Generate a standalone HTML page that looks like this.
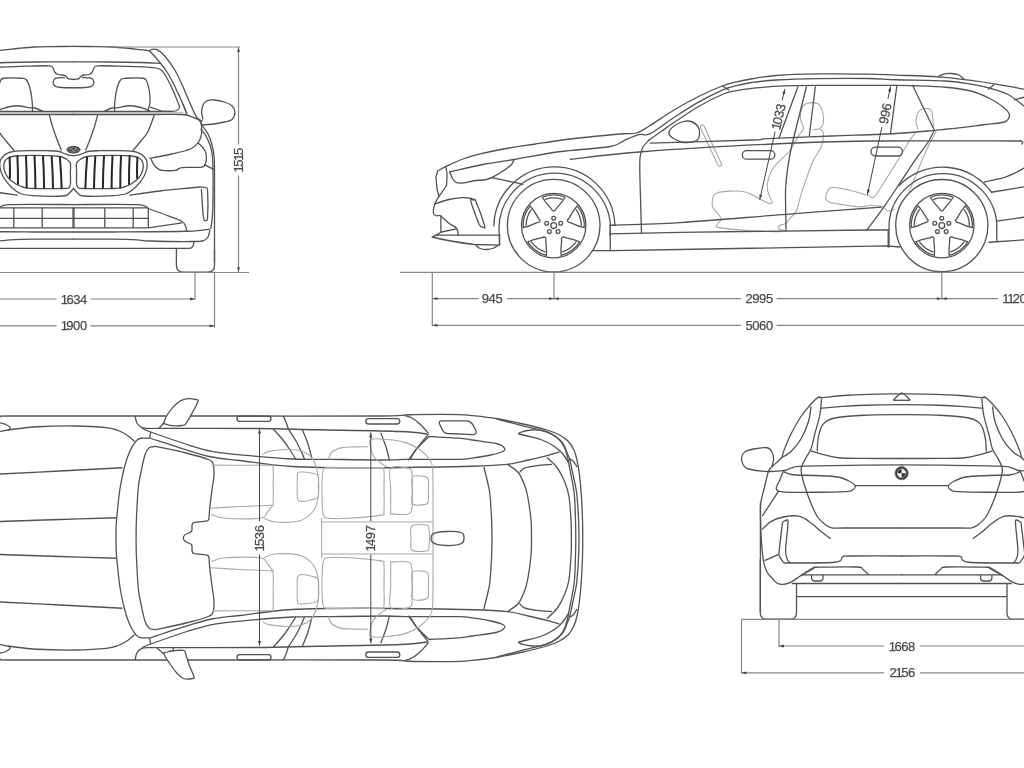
<!DOCTYPE html>
<html><head><meta charset="utf-8"><title>Dimensions</title>
<style>
html,body{margin:0;padding:0;background:#fff;}
body{width:1024px;height:768px;overflow:hidden;}
svg{display:block;will-change:transform;}
.b{fill:none;stroke:#525252;stroke-width:1.3;stroke-linecap:round;stroke-linejoin:round;}
#fh .b,#rh .b,#th .b,#th .s{stroke-linecap:butt;}
.k{fill:none;stroke:#444;stroke-width:1;stroke-linecap:round;stroke-linejoin:round;}
.g{fill:none;stroke:#262626;stroke-width:2;stroke-linecap:round;}
.s{fill:none;stroke:#a8a8a8;stroke-width:1.1;stroke-linecap:round;stroke-linejoin:round;}
.d{fill:none;stroke:#858585;stroke-width:1.2;}
.ah{fill:#444;stroke:none;}
.w{fill:#fff;stroke:#525252;stroke-width:1.3;}
text{font-family:"Liberation Sans",sans-serif;fill:#4a4a4a;stroke:#4a4a4a;stroke-width:.25;text-anchor:start;dominant-baseline:central;}
</style></head>
<body>
<svg width="1024" height="768" viewBox="0 0 1024 768">
<g id="fh"><path class="b" d="M73 46.4C76.67 46.43 88.42 46.5 95 46.6C101.58 46.7 107 46.73 112.5 47C118 47.27 123.42 47.82 128 48.25C132.58 48.68 136.42 49.18 140 49.6C143.58 50.02 147.92 50.56 149.5 50.75"/>
<path class="b" d="M73 61.8C79.5 61.83 100.83 61.88 112 62C123.17 62.12 131.92 62.28 140 62.5C148.08 62.72 157.08 63.17 160.5 63.3"/>
<path class="b" d="M149.5 50.75C149.92 50.52 150.75 49.59 152 49.4C153.25 49.21 154.92 48.54 157 49.6C159.08 50.66 161.58 52.43 164.5 55.75C167.42 59.07 171.58 64.71 174.5 69.5C177.42 74.29 179.5 79.08 182 84.5C184.5 89.92 187.21 96.79 189.5 102C191.79 107.21 194.08 112.78 195.75 115.75C197.42 118.72 198.29 118.01 199.5 119.8C200.71 121.59 201.58 124.13 203 126.5C204.42 128.87 206.54 131.08 208 134C209.46 136.92 210.73 140.25 211.75 144C212.77 147.75 213.64 152.33 214.1 156.5C214.56 160.67 214.43 161.75 214.5 169C214.57 176.25 214.5 188.17 214.5 200C214.5 211.83 214.5 229.67 214.5 240C214.5 250.33 214.5 258.33 214.5 262"/>
<path class="b" d="M149.5 50.75C151.17 52.62 156.58 58.46 159.5 62C162.42 65.54 164.5 68.04 167 72C169.5 75.96 172 80.75 174.5 85.75C177 90.75 179.92 97.21 182 102C184.08 106.79 186.17 112.42 187 114.5"/>
<path class="b" d="M183 104L186.75 113.4"/>
<path class="b" d="M73 79.5C73.92 79.4 77.17 79.45 78.5 78.9C79.83 78.35 80.08 76.85 81 76.2C81.92 75.55 82.67 75.28 84 75C85.33 74.72 87.62 75 89 74.5C90.38 74 91.43 73.15 92.3 72C93.17 70.85 93.25 68.63 94.2 67.6C95.15 66.57 93.7 66.03 98 65.8C102.3 65.57 110.79 65.9 120 66.2C129.21 66.5 146.25 66.84 153.25 67.6C160.25 68.36 159.71 68.97 162 70.75C164.29 72.53 165.12 74.92 167 78.25C168.88 81.58 171.38 86.58 173.25 90.75C175.12 94.92 177.21 100.54 178.25 103.25C179.29 105.96 179.71 105.79 179.5 107C179.29 108.21 178.25 109.77 177 110.5C175.75 111.23 174.5 111.25 172 111.4C169.5 111.55 163.67 111.4 162 111.4"/>
<path class="b" d="M73 87.8C75 87.75 82 87.7 85 87.5C88 87.3 89.57 87.18 91 86.6C92.43 86.02 93.23 85.1 93.6 84C93.97 82.9 93.8 81.02 93.2 80C92.6 78.98 91.87 78.3 90 77.9C88.13 77.5 83.33 77.65 82 77.6"/>
<path class="b" d="M114.5 111C114.55 109.5 114.38 105.79 114.8 102C115.22 98.21 116.01 91.95 117 88.25C117.99 84.55 119.29 81.47 120.75 79.8C122.21 78.13 122 78.51 125.75 78.25C129.5 77.99 139.71 77.62 143.25 78.25C146.79 78.88 145.96 79.71 147 82C148.04 84.29 149 88.67 149.5 92C150 95.33 150.21 99.17 150 102C149.79 104.83 148.75 107.43 148.25 109C147.75 110.57 147.21 111 147 111.4"/>
<path class="b" d="M104 111.4C105.33 110.83 109.83 108.6 112 108C114.17 107.4 113.88 108.17 117 107.8C120.12 107.42 126.17 105.62 130.75 105.75C135.33 105.88 141.29 107.66 144.5 108.6C147.71 109.54 149.08 110.93 150 111.4"/>
<path class="b" d="M149.5 107C150.58 107.33 153.92 108.27 156 109C158.08 109.73 161 111 162 111.4"/>
<path class="b" d="M73 111.4H172"/>
<path class="b" d="M73 114.5C85.83 114.5 131.83 114.5 150 114.5C168.17 114.5 175 114.12 182 114.5C189 114.88 189 115.72 192 116.8C195 117.88 198.38 118.97 200 121C201.62 123.03 201.58 126.42 201.75 129C201.92 131.58 201.62 134.21 201 136.5C200.38 138.79 199.75 140.67 198 142.75C196.25 144.83 194.88 147.12 190.5 149C186.12 150.88 178.62 152.43 171.75 154C164.88 155.57 153 157.67 149.25 158.4"/>
<path class="s" d="M73 112.9H183"/>
<path class="b" d="M97.8 114.5C97.17 116.75 95.47 123.42 94 128C92.53 132.58 90.42 138.25 89 142C87.58 145.75 86.08 149.08 85.5 150.5"/>
<path class="b" d="M154.25 115C153.21 117.75 150.29 127.08 148 131.5C145.71 135.92 143 138.33 140.5 141.5C138 144.67 134.25 149 133 150.5"/>
<path class="b" d="M151 159C151.54 160.04 152.88 163.48 154.25 165.25C155.62 167.02 157.46 168.71 159.25 169.6C161.04 170.49 162.29 170.47 165 170.6C167.71 170.73 172.92 170.85 175.5 170.4C178.08 169.95 178.08 168.4 180.5 167.9C182.92 167.4 186.46 167.53 190 167.4C193.54 167.27 199.17 167.67 201.75 167.1C204.33 166.53 204.76 166.18 205.5 164C206.24 161.82 206.62 156.71 206.2 154C205.78 151.29 204.37 149.62 203 147.75C201.63 145.88 198.83 143.58 198 142.75"/>
<path class="b" d="M204.25 164.6L214.25 169.6"/>
<path class="b" d="M200.5 129C201.33 130.04 203.83 132.33 205.5 135.25C207.17 138.17 209.35 142.96 210.5 146.5C211.65 150.04 211.98 152.75 212.4 156.5C212.82 160.25 212.9 161.75 213 169C213.1 176.25 213.07 192.83 213 200C212.93 207.17 212.77 208.62 212.6 212C212.43 215.38 212.31 217.42 212 220.25C211.69 223.08 210.96 227.54 210.75 229"/>
<path class="b" d="M203 119.6C202.77 118.33 201.56 114.52 201.6 112C201.64 109.48 202.35 106.38 203.25 104.5C204.15 102.62 205.12 101.5 207 100.75C208.88 100 211.58 99.79 214.5 100C217.42 100.21 221.58 101.04 224.5 102C227.42 102.96 230.25 104.08 232 105.75C233.75 107.42 235 109.71 235 112C235 114.29 233.75 117.83 232 119.5C230.25 121.17 227.83 121.21 224.5 122C221.17 122.79 215.92 123.75 212 124.25C208.08 124.75 202.83 124.88 201 125"/>
<path class="b" d="M199.5 119.8L202.5 121.3"/>
<path class="b" d="M73 155.6C73.83 155.53 76.38 155.55 78 155.2C79.62 154.85 80.92 154.16 82.75 153.5C84.58 152.84 86.12 151.72 89 151.25C91.88 150.78 95.83 150.81 100 150.7C104.17 150.59 108.54 150.51 114 150.6C119.46 150.69 128.17 150.62 132.75 151.25C137.33 151.88 139.21 152.94 141.5 154.4C143.79 155.86 145.58 157.82 146.5 160C147.42 162.18 147.42 164.79 147 167.5C146.58 170.21 145.75 173.12 144 176.25C142.25 179.38 139.42 183.38 136.5 186.25C133.58 189.12 130.25 191.94 126.5 193.5C122.75 195.06 121.08 195.18 114 195.6C106.92 196.02 90.04 196.43 84 196C77.96 195.57 79.58 194.33 77.75 193C75.92 191.67 73.79 188.83 73 188"/>
<path class="b" d="M76.6 172C76.6 168.53 75.95 165.33 76.6 163.2C77.25 161.07 78.43 160.36 80.5 159.2C82.57 158.04 83.42 156.88 89 156.25C94.58 155.62 106.92 155.44 114 155.4C121.08 155.36 127.33 155.57 131.5 156C135.67 156.43 137.12 156.92 139 158C140.88 159.08 142.12 160.5 142.75 162.5C143.38 164.5 143.38 167.5 142.75 170C142.12 172.5 140.88 175.21 139 177.5C137.12 179.79 134.21 182.08 131.5 183.75C128.79 185.42 125.67 186.71 122.75 187.5C119.83 188.29 120.46 188.33 114 188.5C107.54 188.67 89.97 188.65 84 188.5C78.03 188.35 79.43 188.35 78.2 187.6C76.97 186.85 76.87 186.6 76.6 184C76.33 181.4 76.6 175.47 76.6 172Z"/>
<path class="g" d="M87.1 157.3Q85.8 172.6 85.4 187.8"/>
<path class="g" d="M95.3 156.7Q94.2 172.3 94.0 188.0"/>
<path class="g" d="M104.0 156.3Q103.0 172.2 102.9 188.0"/>
<path class="g" d="M112.5 156.1Q111.6 172.1 111.6 188.0"/>
<path class="g" d="M121.0 156.1Q120.2 171.8 120.3 187.5"/>
<path class="g" d="M129.6 156.3Q128.9 170.2 129.0 184.0"/>
<path class="g" d="M137.4 157.6Q136.8 167.8 137.1 178.0"/>
<path class="b" d="M129.5 195.25C134.58 194.54 149.92 192.21 160 191C170.08 189.79 183.33 188.67 190 188C196.67 187.33 198.33 187.17 200 187"/>
<path class="b" d="M200 187C200.97 187.12 204.53 186.95 205.8 187.7C207.07 188.45 207.3 186.62 207.6 191.5C207.9 196.38 207.88 212.18 207.6 217C207.32 221.82 206.6 220.4 205.9 220.4C205.2 220.4 204.15 222.23 203.4 217C202.65 211.77 201.73 193.67 201.4 189"/>
<path class="b" d="M73 204.6C83.67 204.6 124.25 203.87 137 204.6C149.75 205.33 144.29 207.12 149.5 209C154.71 210.88 162.83 213.82 168.25 215.9C173.67 217.98 179.08 219.73 182 221.5C184.92 223.27 184.98 224.92 185.75 226.5C186.52 228.08 186.46 230.25 186.6 231"/>
<path class="b" d="M73 207.8H148.3M73 218.3H148.3M73 227.8H148.3L182 222.8"/>
<path class="b" d="M73 207.8V227.8M104.8 207.8V227.8M133.2 207.8V227.8M148.3 209V227.8"/>
<path class="b" d="M73 232C79.5 232 93 232.12 112 232C131 231.88 170.75 231.72 187 231.25C203.25 230.78 205.75 229.54 209.5 229.2"/>
<path class="b" d="M210 229.6C209.71 230.75 209.17 234.72 208.25 236.5C207.33 238.28 207 239.42 204.5 240.25C202 241.08 202.42 241.38 193.25 241.5C184.08 241.62 158.88 241.28 149.5 241C140.12 240.72 143.25 240.1 137 239.8C130.75 239.5 122.67 239.3 112 239.2C101.33 239.1 79.5 239.2 73 239.2"/>
<path class="b" d="M73 248.4H189.5Q193.6 248.2 193.9 241.5"/>
<path class="b" d="M176.4 248.4V265.5Q176.6 272.1 183 272.1H208Q214.4 272.1 214.5 265.5V250"/></g>
<use href="#fh" transform="translate(147 0) scale(-1 1)"/>
<ellipse cx="73.5" cy="149.7" rx="6.6" ry="3.3" fill="#555" stroke="#444" stroke-width="1"/>
<ellipse cx="73.5" cy="149.7" rx="4.4" ry="2" fill="#3a3a3a" stroke="#999" stroke-width=".6"/>
<path d="M70.5 148.6L73.5 150.8L76.5 148.6" fill="none" stroke="#ddd" stroke-width="0.8"/>
<path class="s" d="M781.75 231.75C776.54 231.57 760.92 231.39 750.5 230.7C740.08 230.01 724.8 228.63 719.25 227.6C713.7 226.57 716.86 225.89 717.2 224.5C717.54 223.11 721.3 221.17 721.3 219.25C721.3 217.33 718.65 215.08 717.2 213C715.75 210.92 713.3 209.35 712.6 206.75C711.9 204.15 712.42 199.66 713 197.4C713.58 195.14 713.32 194.25 716.1 193.2C718.88 192.15 724.67 191.27 729.7 191.1C734.73 190.93 741.45 190.98 746.3 192.2C751.15 193.42 754.97 196.5 758.8 198.4C762.62 200.3 766.98 202.9 769.25 203.6C771.52 204.3 771.88 202.77 772.4 202.6"/>
<path class="s" d="M772.4 202.6C771.53 200.17 767.38 193.22 767.2 188C767.02 182.78 769.22 175.82 771.3 171.3C773.38 166.78 776.57 164.37 779.7 160.9C782.83 157.43 786.98 154.67 790.1 150.5C793.22 146.33 796.15 139.55 798.4 135.9C800.65 132.25 803.25 131.38 803.6 128.6C803.95 125.82 800.85 122.55 800.5 119.25C800.15 115.95 800.46 111.41 801.5 108.8C802.54 106.19 804.13 104.47 806.75 103.6C809.37 102.73 814.59 102.38 817.2 103.6C819.81 104.82 821.37 107.6 822.4 110.9C823.43 114.2 823.92 120.45 823.4 123.4C822.88 126.35 820.98 127.55 819.25 128.6C817.52 129.65 814.04 129.52 813 129.7"/>
<path class="s" d="M819.25 128.6C819.94 129.3 823.06 129.85 823.4 132.8C823.74 135.75 823.03 141.62 821.3 146.3C819.57 150.98 815.42 155.68 813 160.9C810.58 166.12 808.83 171.7 806.75 177.6C804.67 183.5 802.24 190.75 800.5 196.3C798.76 201.85 798.03 207.25 796.3 210.9C794.57 214.55 791.83 216.12 790.1 218.2C788.37 220.28 787.63 222.18 785.9 223.4C784.17 224.62 780.92 224.63 779.7 225.5C778.48 226.37 777.72 227.68 778.6 228.6C779.48 229.52 783.93 230.6 785 231"/>
<path class="s" d="M831 202.7C830.17 202.13 826.55 201.25 826 199.3C825.45 197.35 826.58 193 827.7 191C828.82 189 829.1 187.43 832.7 187.3C836.3 187.17 843.47 188.88 849.3 190.2C855.13 191.52 863.53 194.1 867.7 195.2C871.87 196.3 871.25 199.45 874.3 196.8C877.35 194.15 881.83 185.82 886 179.3C890.17 172.78 895.42 164.08 899.3 157.7C903.18 151.32 906.52 145.32 909.3 141C912.08 136.68 914.88 133.33 916 131.8"/>
<path class="s" d="M831 202.7C835.45 203.38 851.03 206.38 857.7 206.8C864.37 207.22 866.83 205.2 871 205.2C875.17 205.2 879.92 205.83 882.7 206.8C885.48 207.77 885.77 210.58 887.7 211C889.63 211.42 893.2 209.58 894.3 209.3"/>
<path class="s" d="M917.7 129.3C917.42 127.92 915.87 123.92 916 121C916.13 118.08 917.12 113.88 918.5 111.8C919.88 109.72 922.22 108.77 924.3 108.5C926.38 108.23 929.6 108.67 931 110.2C932.4 111.73 932.28 115.07 932.7 117.7C933.12 120.33 933.37 124.62 933.5 126"/>
<path class="s" d="M936 131.8C934.88 133.88 931.8 139.15 929.3 144.3C926.8 149.45 923.5 156.87 921 162.7C918.5 168.53 916.25 174.58 914.3 179.3C912.35 184.02 910.13 189.05 909.3 191"/>
<rect class="s" x="688.4" y="143.7" width="45" height="3.8" rx="1.9" transform="rotate(65.2 710.9 145.6)"/>
<path class="b" d="M445.9 166.4C448.5 165.25 455.77 161.58 461.5 159.5C467.23 157.42 472.33 155.82 480.25 153.9C488.17 151.98 500.04 149.61 509 148C517.96 146.39 525.67 145.5 534 144.25C542.33 143 550.67 141.62 559 140.5C567.33 139.38 575.67 138.42 584 137.5C592.33 136.58 602.33 135.62 609 135C615.67 134.38 619.42 134.08 624 133.75C628.58 133.42 632.33 134.25 636.5 133C640.67 131.75 642.75 130.08 649 126.25C655.25 122.42 665.67 115 674 110C682.33 105 691.08 100.21 699 96.25C706.92 92.29 715.25 88.64 721.5 86.25C727.75 83.86 731.42 83.15 736.5 81.9C741.58 80.65 745.42 79.82 752 78.75C758.58 77.68 765 76.31 776 75.5C787 74.69 802.67 74.13 818 73.9C833.33 73.67 855 73.9 868 74.1C881 74.3 884.25 74.65 896 75.1C907.75 75.55 926 75.92 938.5 76.8C951 77.68 961.42 79.18 971 80.4C980.58 81.62 987.17 82.65 996 84.1C1004.83 85.55 1019.33 88.27 1024 89.1"/>
<path class="b" d="M938.5 76.6C939.33 76.18 941.42 74.62 943.5 74.1C945.58 73.58 948.5 73.39 951 73.5C953.5 73.61 956.33 73.78 958.5 74.75C960.67 75.72 963.08 78.54 964 79.3"/>
<path class="b" d="M449.6 172C455.33 170.71 473.27 166.33 484 164.25C494.73 162.17 501.5 161.58 514 159.5C526.5 157.42 543.17 153.88 559 151.75C574.83 149.62 598.17 148.61 609 146.75C619.83 144.89 620.17 142.22 624 140.6C627.83 138.97 629.29 138.03 632 137C634.71 135.97 637.21 134.97 640.25 134.4C643.29 133.83 644.62 136.42 650.25 133.6C655.88 130.78 665.88 122.78 674 117.5C682.12 112.22 690.67 106.58 699 101.9C707.33 97.22 717.75 92.12 724 89.4C730.25 86.68 731.83 86.75 736.5 85.6C741.17 84.45 745.42 83.43 752 82.5C758.58 81.57 765 80.65 776 80C787 79.35 802.67 78.85 818 78.6C833.33 78.35 855 78.31 868 78.5C881 78.69 883 79.33 896 79.75C909 80.17 933.5 80.28 946 81C958.5 81.72 963.5 82.85 971 84.1C978.5 85.35 984.75 86.72 991 88.5C997.25 90.28 1003 91.83 1008.5 94.75C1014 97.67 1021.42 104.12 1024 106"/>
<path class="b" d="M988.5 89.1L994 84.75M1014.75 99.75L1024 97.25"/>
<path class="b" d="M649 140C651.08 138.54 657.33 134.17 661.5 131.25C665.67 128.33 667.75 126.67 674 122.5C680.25 118.33 690.67 111.04 699 106.25C707.33 101.46 717.75 96.36 724 93.75C730.25 91.14 731.83 91.49 736.5 90.6C741.17 89.71 744.17 89.2 752 88.4C759.83 87.6 770.17 86.32 783.5 85.8C796.83 85.28 813.25 85.37 832 85.3C850.75 85.23 882.42 85.33 896 85.4C909.58 85.48 905.17 85.44 913.5 85.75C921.83 86.06 936.42 86.38 946 87.25C955.58 88.12 963.71 89.12 971 91C978.29 92.88 984.33 95.79 989.75 98.5C995.17 101.21 1000.27 104.75 1003.5 107.25C1006.73 109.75 1008.27 111.62 1009.1 113.5C1009.93 115.38 1009.43 117.04 1008.5 118.5C1007.57 119.96 1007.67 121.21 1003.5 122.25C999.33 123.29 991 123.81 983.5 124.75C976 125.69 966.62 126.96 958.5 127.9C950.38 128.84 938.71 129.98 934.75 130.4"/>
<path class="b" d="M650.25 143.1C667.21 142.58 732.38 140.75 752 140C771.62 139.25 754.67 139.27 768 138.6C781.33 137.93 810.67 136.85 832 136C853.33 135.15 878.88 134.43 896 133.5C913.12 132.57 928.29 130.92 934.75 130.4"/>
<path class="b" d="M570.25 159.25C582.25 158 609.29 154.25 642.25 151.75C675.21 149.25 730.38 146.04 768 144.25C805.62 142.46 825.83 141.54 868 141C910.17 140.46 995.5 141 1021 141"/>
<path class="b" d="M1021 141C1021.33 141.25 1022.9 142 1023 142.5C1023.1 143 1021.83 143.75 1021.6 144"/>
<path class="b" d="M649 140C647.96 141.25 644.21 144.83 642.75 147.5C641.29 150.17 640.75 152.58 640.25 156C639.75 159.42 639.71 161 639.75 168C639.79 175 640.21 187.17 640.5 198C640.79 208.83 641.33 227.17 641.5 233"/>
<path class="b" d="M669 133.75C668.58 131.97 669.62 129.97 671.5 128.1C673.38 126.22 677.12 123.64 680.25 122.5C683.38 121.36 687.33 120.62 690.25 121.25C693.17 121.88 696.19 124.17 697.75 126.25C699.31 128.33 699.81 131.36 699.6 133.75C699.39 136.14 699.1 139.14 696.5 140.6C693.9 142.06 687.75 142.81 684 142.5C680.25 142.19 676.5 140.21 674 138.75C671.5 137.29 669.42 135.53 669 133.75Z"/>
<path class="b" d="M722.75 86.25L729 90"/>
<rect class="b" x="742.3" y="150.6" width="32.5" height="8.6" rx="4.3"/>
<rect class="b" x="871" y="147.2" width="31.5" height="8.8" rx="4.4"/>
<path class="b" d="M797.8 87L779 138M806.4 87L791.75 145.5Q785 178 785.5 198L786 230.5M815.3 87L809.3 135.5"/>
<path class="b" d="M896.75 86.5L890.5 133.3M912.9 86L934.1 129.75"/>
<path class="b" d="M934.1 131C932.96 133.08 930.33 138.77 927.25 143.5C924.17 148.23 920.14 152.83 915.6 159.4C911.06 165.97 905.22 175.08 900 182.9C894.78 190.72 889.78 198.49 884.3 206.3C878.82 214.11 869.97 225.84 867.1 229.75"/>
<path class="b" d="M610.25 225.3C621.88 224.85 650.71 224.43 680 222.6C709.29 220.77 752.47 216.87 786 214.3C819.53 211.73 865.33 208.38 881.2 207.2"/>
<path class="b" d="M610.25 233.8L680 232.3L866.8 230H888.2M590 250.6H612L680 249.5L886 245.8L900 247M610.25 225.3V250.6M888.2 229.75V247M610.25 225.3H615.4"/>
<path class="b" d="M449.6 172C450.12 173.15 451.6 177.13 452.75 178.9C453.9 180.67 454.62 181.95 456.5 182.6C458.38 183.25 461.08 183.11 464 182.8C466.92 182.49 470.25 181.3 474 180.75C477.75 180.2 483.17 180.22 486.5 179.5C489.83 178.78 490.88 178.07 494 176.4C497.12 174.73 502.33 171.48 505.25 169.5C508.17 167.52 510.04 166.17 511.5 164.5C512.96 162.83 513.58 160.33 514 159.5"/>
<path class="b" d="M491.5 177.6C495.46 178.43 510.04 181.45 515.25 182.6C520.46 183.75 521.5 184.18 522.75 184.5"/>
<path class="b" d="M445.9 166.4L437.75 170.75L435.9 177L437.1 189.5L439 196.4L446.5 185.75L447.1 174.5L445.9 166.4"/>
<path class="b" d="M439 196.4C438.27 197.75 435.53 201.69 434.6 204.5C433.67 207.31 433.08 211.38 433.4 213.25C433.72 215.12 435.36 215.33 436.5 215.75C437.64 216.17 438.17 214.5 440.25 215.75C442.33 217 446.29 221.17 449 223.25C451.71 225.33 454.93 226.28 456.5 228.25C458.07 230.22 458.08 233.96 458.4 235.1"/>
<path class="b" d="M434.6 204C437 203.25 444.52 200.57 449 199.5C453.48 198.43 457.96 197.81 461.5 197.6C465.04 197.39 468.17 197.83 470.25 198.25C472.33 198.67 473.38 199.79 474 200.1"/>
<path class="b" d="M470.9 201.4C469.97 197.42 472.57 200 473.4 200C474.23 200 474.03 197.11 475.9 201.4C477.77 205.69 483.46 221.48 484.6 225.75C485.74 230.02 483.68 227.31 482.75 227C481.82 226.69 480.98 228.17 479 223.9C477.02 219.63 471.83 205.38 470.9 201.4Z"/>
<path class="b" d="M440.9 215.75V232"/>
<path class="b" d="M432.1 237L441.5 232L456.5 228.9M432.1 237L436.5 235.1H499.6M432.1 237Q449 241.4 474 244.5L499.6 245.1M499.6 234.5V245.1"/>
<path class="b" d="M476 245C476.67 245.58 478.17 247.75 480 248.5C481.83 249.25 484.67 249.58 487 249.5C489.33 249.42 492.17 248.72 494 248C495.83 247.28 497.33 245.67 498 245.2"/>
<path class="b" d="M493.82 225.91A60.60 60.60 0 0 1 614.96 225.39"/>
<path class="b" d="M499.41 235.05A55.65 55.65 0 1 1 609.99 235.05"/>
<path class="b" d="M499.4 235V245"/>
<path class="b" d="M899.05 185.54A60.40 60.40 0 0 1 991.67 192.43"/>
<path class="b" d="M889.05 229.75A53.90 53.90 0 1 1 996.75 229.75"/>
<path class="b" d="M889 229.75V247M996.8 229.75V240.7"/>
<path class="b" d="M984.3 182.1C987.68 181.32 999.32 179 1004.6 177.4C1009.88 175.8 1012.77 174.07 1016 172.5C1019.23 170.93 1022.67 168.75 1024 168"/>
<path class="b" d="M991.3 192.25L1024 186.8M996.8 221.2L1024 217.25M989 242.25L1024 239.9"/>
<circle class="w" cx="553.7" cy="225.6" r="46.3"/>
<circle class="b" cx="553.7" cy="225.6" r="32.2"/>
<path class="b" d="M542.24 197.23A30.60 30.60 0 0 1 565.16 197.23Q562.25 202.11 556.44 208.32Q553.70 214.00 550.96 208.32Q545.15 202.11 542.24 197.23"/>
<path class="b" d="M545.40 199.28A27.60 27.60 0 0 1 562.00 199.28"/>
<circle class="b" cx="553.70" cy="218.20" r="1.9"/>
<path class="b" d="M577.14 205.93A30.60 30.60 0 0 1 584.23 227.73Q578.68 226.47 570.98 222.86Q564.73 222.02 569.29 217.66Q573.40 210.21 577.14 205.93"/>
<path class="b" d="M576.17 209.57A27.60 27.60 0 0 1 581.30 225.36"/>
<circle class="b" cx="560.74" cy="223.31" r="1.9"/>
<path class="b" d="M579.65 241.82A30.60 30.60 0 0 1 561.10 255.29Q560.59 249.63 561.64 241.19Q560.52 234.98 566.07 237.97Q574.43 239.58 579.65 241.82"/>
<path class="b" d="M575.89 242.02A27.60 27.60 0 0 1 562.46 251.77"/>
<circle class="b" cx="558.05" cy="231.59" r="1.9"/>
<path class="b" d="M546.30 255.29A30.60 30.60 0 0 1 527.75 241.82Q532.97 239.58 541.33 237.97Q546.88 234.98 545.76 241.19Q546.81 249.63 546.30 255.29"/>
<path class="b" d="M544.94 251.77A27.60 27.60 0 0 1 531.51 242.02"/>
<circle class="b" cx="549.35" cy="231.59" r="1.9"/>
<path class="b" d="M523.17 227.73A30.60 30.60 0 0 1 530.26 205.93Q534.00 210.21 538.11 217.66Q542.67 222.02 536.42 222.86Q528.72 226.47 523.17 227.73"/>
<path class="b" d="M526.10 225.36A27.60 27.60 0 0 1 531.23 209.57"/>
<circle class="b" cx="546.66" cy="223.31" r="1.9"/>
<circle class="b" cx="553.7" cy="225.6" r="2.9"/>
<circle class="w" cx="941.8" cy="225.6" r="46.1"/>
<circle class="b" cx="941.8" cy="225.6" r="32.2"/>
<path class="b" d="M930.34 197.23A30.60 30.60 0 0 1 953.26 197.23Q950.35 202.11 944.54 208.32Q941.80 214.00 939.06 208.32Q933.25 202.11 930.34 197.23"/>
<path class="b" d="M933.50 199.28A27.60 27.60 0 0 1 950.10 199.28"/>
<circle class="b" cx="941.80" cy="218.20" r="1.9"/>
<path class="b" d="M965.24 205.93A30.60 30.60 0 0 1 972.33 227.73Q966.78 226.47 959.08 222.86Q952.83 222.02 957.39 217.66Q961.50 210.21 965.24 205.93"/>
<path class="b" d="M964.27 209.57A27.60 27.60 0 0 1 969.40 225.36"/>
<circle class="b" cx="948.84" cy="223.31" r="1.9"/>
<path class="b" d="M967.75 241.82A30.60 30.60 0 0 1 949.20 255.29Q948.69 249.63 949.74 241.19Q948.62 234.98 954.17 237.97Q962.53 239.58 967.75 241.82"/>
<path class="b" d="M963.99 242.02A27.60 27.60 0 0 1 950.56 251.77"/>
<circle class="b" cx="946.15" cy="231.59" r="1.9"/>
<path class="b" d="M934.40 255.29A30.60 30.60 0 0 1 915.85 241.82Q921.07 239.58 929.43 237.97Q934.98 234.98 933.86 241.19Q934.91 249.63 934.40 255.29"/>
<path class="b" d="M933.04 251.77A27.60 27.60 0 0 1 919.61 242.02"/>
<circle class="b" cx="937.45" cy="231.59" r="1.9"/>
<path class="b" d="M911.27 227.73A30.60 30.60 0 0 1 918.36 205.93Q922.10 210.21 926.21 217.66Q930.77 222.02 924.52 222.86Q916.82 226.47 911.27 227.73"/>
<path class="b" d="M914.20 225.36A27.60 27.60 0 0 1 919.33 209.57"/>
<circle class="b" cx="934.76" cy="223.31" r="1.9"/>
<circle class="b" cx="941.8" cy="225.6" r="2.9"/>
<g id="th"><path class="b" d="M0 417C1.33 416.83 -8.67 416.17 8 416C24.67 415.83 59.67 416 100 416C140.33 416 202.67 416 250 416C297.33 416 357.5 416.21 384 416C410.5 415.79 399.67 415.02 409 414.75C418.33 414.48 431.67 414.42 440 414.4C448.33 414.38 453.67 414.4 459 414.6C464.33 414.8 465.67 414.91 472 415.6C478.33 416.29 488.67 417.39 497 418.75C505.33 420.11 513.67 421.88 522 423.75C530.33 425.62 540.75 428.12 547 430C553.25 431.88 555.96 433.12 559.5 435C563.04 436.88 565.85 438.75 568.25 441.25C570.65 443.75 572.44 446.88 573.9 450C575.36 453.12 576.07 455.83 577 460C577.93 464.17 578.77 469 579.5 475C580.23 481 580.9 488.5 581.4 496C581.9 503.5 582.27 513 582.5 520C582.73 527 582.71 535 582.75 538"/>
<path class="b" d="M497 419.2C501.17 420.27 513.67 423.48 522 425.6C530.33 427.72 541.17 429.92 547 431.9C552.83 433.88 554.29 435.52 557 437.5C559.71 439.48 561.58 441.25 563.25 443.75C564.92 446.25 565.96 450 567 452.5C568.04 455 568.67 455.83 569.5 458.75C570.33 461.67 570.96 465.21 572 470C573.04 474.79 574.92 483.17 575.75 487.5C576.58 491.83 576.52 490.58 577 496C577.48 501.42 578.27 513 578.6 520C578.93 527 578.93 535 579 538"/>
<path class="b" d="M569.5 458.75C570 459.04 571.57 459.67 572.5 460.5C573.43 461.33 574.35 462.67 575.1 463.75C575.85 464.83 576.68 466.46 577 467"/>
<path class="b" d="M518.25 433.75C518.88 433.44 519.71 432.52 522 431.9C524.29 431.27 528.67 430.22 532 430C535.33 429.78 538.67 429.87 542 430.6C545.33 431.33 549.08 432.83 552 434.4C554.92 435.97 557.42 437.82 559.5 440C561.58 442.18 563.15 444.58 564.5 447.5C565.85 450.42 566.77 454.17 567.6 457.5C568.43 460.83 568.77 463.75 569.5 467.5C570.23 471.25 571.17 475.25 572 480C572.83 484.75 573.92 489.33 574.5 496C575.08 502.67 575.28 513 575.5 520C575.72 527 575.75 535 575.8 538"/>
<path class="b" d="M518.25 433.75C519.92 434.17 524.29 435.21 528.25 436.25C532.21 437.29 538.04 438.54 542 440C545.96 441.46 549.08 443.23 552 445C554.92 446.77 557.42 448.73 559.5 450.6C561.58 452.48 563.04 454.27 564.5 456.25C565.96 458.23 567.62 461.46 568.25 462.5"/>
<path class="b" d="M0 431.4C1.88 431.08 5 430.27 11.25 429.5C17.5 428.73 26.88 427.33 37.5 426.75C48.12 426.17 63.54 425.86 75 426C86.46 426.14 98.96 426.81 106.25 427.6C113.54 428.39 115.12 429.39 118.75 430.75C122.38 432.11 125.38 433.98 128 435.75C130.62 437.52 133.42 440.46 134.5 441.4"/>
<path class="b" d="M0 422.75C1 423.04 4.33 423.67 6 424.5C7.67 425.33 9.67 426.75 10 427.75C10.33 428.75 8.33 430.04 8 430.5"/>
<path class="b" d="M0 474C10 473.5 39.58 472.04 60 471C80.42 469.96 112.08 468.29 122.5 467.75"/>
<path class="b" d="M0 521.5C10 521.17 40.62 520.12 60 519.5C79.38 518.88 106.88 518.04 116.25 517.75"/>
<path class="b" d="M149.5 438.25C148.04 438.25 143.04 437.73 140.75 438.25C138.46 438.77 137.62 439.11 135.75 441.4C133.88 443.69 131.38 447.73 129.5 452C127.62 456.27 126.07 461 124.5 467C122.93 473 121.3 480.5 120.1 488C118.9 495.5 117.94 506 117.3 512C116.66 518 116.47 519.67 116.25 524C116.03 528.33 116.04 535.67 116 538"/>
<path class="b" d="M150.75 432L149.5 438.25"/>
<path class="b" d="M136.1 538C136.15 535 136.04 528.33 136.4 520C136.76 511.67 137.53 495.79 138.25 488C138.97 480.21 139.61 478.83 140.75 473.25C141.89 467.67 143.64 458.77 145.1 454.5C146.56 450.23 147.72 448.95 149.5 447.6C151.28 446.25 154.71 446.6 155.75 446.4"/>
<path class="b" d="M155.75 446.4C160.96 447.54 178.25 451.07 187 453.25C195.75 455.43 203.88 457.62 208.25 459.5C212.62 461.38 212.31 461.75 213.25 464.5C214.19 467.25 214.07 472.08 213.9 476C213.73 479.92 212.94 482.67 212.25 488C211.56 493.33 210.28 503 209.75 508C209.22 513 209.21 516.33 209.1 518"/>
<path class="b" d="M209.1 518Q208.8 521 206 521.2L194.5 522.3Q192.2 522.6 192 525.5V530Q192 531.8 188.5 533Q183.6 534.6 183.3 538"/>
<path class="b" d="M142 428.25C143.46 428.88 143.25 429.29 150.75 432C158.25 434.71 176.79 441.27 187 444.5C197.21 447.73 203.17 449.68 212 451.4C220.83 453.12 226.67 453.53 240 454.8C253.33 456.07 275 458.22 292 459C309 459.78 326.67 459.33 342 459.5C357.33 459.67 372.62 460.03 384 460C395.38 459.97 405.88 459.42 410.25 459.3"/>
<path class="b" d="M150.1 438.25C156.25 440.23 176.68 446.98 187 450.1C197.32 453.23 203.17 455.27 212 457C220.83 458.73 226.67 458.92 240 460.5C253.33 462.08 270.83 465.29 292 466.5C313.17 467.71 337 467.79 367 467.75C397 467.71 448.67 466.81 472 466.25C495.33 465.69 497.62 465.44 507 464.4C516.38 463.36 521.58 461.47 528.25 460C534.92 458.53 541.79 456.95 547 455.6C552.21 454.25 557.42 452.52 559.5 451.9"/>
<path class="b" d="M135.1 416.2C135.42 417.38 135.85 421.35 137 423.25C138.15 425.15 139.92 426.74 142 427.6C144.08 428.46 146.5 428.27 149.5 428.4C152.5 428.53 142.25 428.38 160 428.4C177.75 428.42 229.83 428.27 256 428.5C282.17 428.73 293 429.25 317 429.75C341 430.25 381.67 430.79 400 431.5C418.33 432.21 422.5 433.58 427 434"/>
<rect class="b" x="237" y="416.2" width="34" height="5.2" rx="2.6"/>
<rect class="b" x="365.8" y="418.6" width="34" height="5.4" rx="2.7"/>
<path class="b" d="M283.25 416C283.71 417 285.17 419.83 286 422C286.83 424.17 287.88 427.83 288.25 429"/>
<path class="b" d="M273.25 429C274.88 430.83 280.21 436.5 283 440C285.79 443.5 287.88 446.83 290 450C292.12 453.17 294.79 457.5 295.75 459"/>
<path class="b" d="M288.25 429C289.54 431 293.88 437.33 296 441C298.12 444.67 299.58 448 301 451C302.42 454 303.92 457.67 304.5 459"/>
<path class="b" d="M302 429C302.83 431 305.67 437.33 307 441C308.33 444.67 309.17 448 310 451C310.83 454 311.67 457.67 312 459"/>
<path class="b" d="M380.75 432.75C381.62 435.12 384.54 442.42 386 447C387.46 451.58 388.92 458.04 389.5 460.25"/>
<path class="b" d="M404.5 415.5C405.75 415.92 409.25 416.42 412 418C414.75 419.58 418.25 422.42 421 425C423.75 427.58 427.25 432.08 428.5 433.5"/>
<path class="b" d="M428.5 434C426.75 436.17 421.38 442.62 418 447C414.62 451.38 409.88 458.04 408.25 460.25"/>
<path class="b" d="M410.25 459C411.29 457.33 413.38 452.75 416.5 449C419.62 445.25 426.92 438.58 429 436.5"/>
<path class="b" d="M429 436.5C434 436.78 451.83 437.62 459 438.2C466.17 438.78 465.67 439.07 472 440C478.33 440.93 491.68 442.5 497 443.75C502.32 445 502.86 446.25 503.9 447.5C504.94 448.75 505.44 450 503.25 451.25C501.06 452.5 495.96 453.86 490.75 455C485.54 456.14 477.29 457.38 472 458.1C466.71 458.82 469.29 459.1 459 459.3C448.71 459.5 418.38 459.3 410.25 459.3"/>
<path class="b" d="M483.9 467C484.62 470 487.22 480.17 488.25 485C489.28 489.83 489.54 490.17 490.1 496C490.66 501.83 491.28 513 491.6 520C491.92 527 491.93 535 492 538"/>
<path class="b" d="M507.6 464.4C509.38 465.75 515.43 469.07 518.25 472.5C521.07 475.93 522.94 481.08 524.5 485C526.06 488.92 526.52 490.17 527.6 496C528.68 501.83 530.35 513 531 520C531.65 527 531.42 535 531.5 538"/>
<path class="b" d="M519.5 472.5C520.33 471.77 521.58 469.25 524.5 468.1C527.42 466.95 532.42 466.22 537 465.6C541.58 464.98 549.5 464.6 552 464.4"/>
<path class="b" d="M547 457.5C548.67 459.17 554.08 463.54 557 467.5C559.92 471.46 562.52 476.5 564.5 481.25C566.48 486 567.82 489.54 568.9 496C569.98 502.46 570.58 513 571 520C571.42 527 571.33 535 571.4 538"/>
<path class="s" d="M212.5 465.1C217.08 465.13 230.42 465.28 240 465.3C249.58 465.32 264.5 464.92 270 465.2C275.5 465.48 272.47 463.53 273 467C273.53 470.47 273.2 479.92 273.2 486C273.2 492.08 273.53 500.3 273 503.5C272.47 506.7 275.5 504.7 270 505.2C264.5 505.7 250 505.99 240 506.5C230 507.01 215 507.96 210 508.25"/>
<path class="s" d="M211.25 514.5C213.54 515.12 216.88 517.62 225 518.25C233.12 518.88 252.92 519.29 260 518.25C267.08 517.21 265.42 514.08 267.5 512C269.58 509.92 271.67 506.79 272.5 505.75"/>
<path class="s" d="M262.5 454.5C263.54 453.98 264.58 452.23 268.75 451.4C272.92 450.57 282.29 449.61 287.5 449.5C292.71 449.39 296.25 449.71 300 450.75C303.75 451.79 307.29 453.04 310 455.75C312.71 458.46 314.79 462.62 316.25 467C317.71 471.38 318.54 476.38 318.75 482C318.96 487.62 318.54 495.75 317.5 500.75C316.46 505.75 315.42 508.67 312.5 512C309.58 515.33 306.25 519.08 300 520.75C293.75 522.42 281.04 522.42 275 522C268.96 521.58 265.62 518.88 263.75 518.25"/>
<path class="s" d="M297.5 474.5C297.97 472.17 297.5 472.21 300 472C302.5 471.79 309.48 472.62 312.5 473.25C315.52 473.88 317.13 473.62 318.1 475.75C319.07 477.88 318.3 482.46 318.3 486C318.3 489.54 319.07 494.75 318.1 497C317.13 499.25 315.31 498.77 312.5 499.5C309.69 500.23 303.75 501.61 301.25 501.4C298.75 501.19 298.18 500.82 297.5 498.25C296.82 495.68 297.2 489.96 297.2 486C297.2 482.04 297.03 476.83 297.5 474.5Z"/>
<path class="s" d="M328.25 459.5C328.88 458.25 329.71 453.98 332 452C334.29 450.02 338.17 448.45 342 447.6C345.83 446.75 350.62 447.04 355 446.9C359.38 446.76 366.04 446.77 368.25 446.75"/>
<path class="s" d="M322 494.5C321.89 487.62 322.18 477.6 322.6 473.25C323.02 468.9 323.56 469.34 324.5 468.4C325.44 467.46 323.17 467.73 328.25 467.6C333.33 467.47 346.21 467.6 355 467.6C363.79 467.6 376.18 467.2 381 467.6C385.82 468 383.4 466.27 383.9 470C384.4 473.73 384 483 384 490C384 497 384.44 507.82 383.9 512C383.36 516.18 386.48 514.06 380.75 515.1C375.02 516.14 358.25 517.73 349.5 518.25C340.75 518.77 332.62 518.88 328.25 518.25C323.88 517.62 324.29 518.46 323.25 514.5C322.21 510.54 322.11 501.38 322 494.5Z"/>
<path class="s" d="M390.75 490C390.75 482.71 387.83 471.88 390.75 468.25C393.67 464.62 404.71 467.42 408.25 468.25C411.79 469.08 411.34 469.62 412 473.25C412.66 476.88 412.2 484.38 412.2 490C412.2 495.62 412.66 503.02 412 507C411.34 510.98 411.58 512.75 408.25 513.9C404.92 515.05 394.92 514.22 392 513.9C389.08 513.58 390.96 515.98 390.75 512C390.54 508.02 390.75 497.29 390.75 490Z"/>
<path class="s" d="M412.6 477C414.62 474.73 421.89 475.98 424.5 476.4C427.11 476.82 427.6 477.23 428.25 479.5C428.9 481.77 428.4 486.35 428.4 490C428.4 493.65 428.9 498.98 428.25 501.4C427.6 503.82 427.11 504.08 424.5 504.5C421.89 504.92 414.62 506.32 412.6 503.9C410.58 501.48 412.4 494.48 412.4 490C412.4 485.52 410.58 479.27 412.6 477Z"/>
<path class="s" d="M387 467C385.75 466.17 381.79 463.88 379.5 462C377.21 460.12 374.71 458.04 373.25 455.75C371.79 453.46 371.17 450.96 370.75 448.25C370.33 445.54 368.04 440.96 370.75 439.5C373.46 438.04 381.17 438.98 387 439.5C392.83 440.02 400.33 440.93 405.75 442.6C411.17 444.27 415.54 446.68 419.5 449.5C423.46 452.32 427.32 456.17 429.5 459.5C431.68 462.83 432.02 462.75 432.6 469.5C433.18 476.25 432.93 488.58 433 500C433.07 511.42 433 531.67 433 538"/>
<path class="s" d="M321.6 518V538M322 522H432.8"/></g>
<use href="#th" transform="translate(0 1076) scale(1 -1)"/>
<path class="w" d="M163.9 422.6C164.32 420.78 166.07 416.48 168.25 413.25C170.43 410.02 174.08 405.64 177 403.25C179.92 400.86 182.62 399.52 185.75 398.9C188.88 398.27 193.71 399.05 195.75 399.5C197.79 399.95 198.62 399.31 198 401.6C197.38 403.89 194.04 409.53 192 413.25C189.96 416.97 187.42 421.86 185.75 423.9C184.08 425.94 184.29 425.22 182 425.5C179.71 425.78 174.71 425.82 172 425.6C169.29 425.38 167.1 424.7 165.75 424.2C164.4 423.7 163.48 424.43 163.9 422.6Z"/>
<path class="b" d="M163.9 422.8L159.5 427.8"/>
<path class="w" d="M163.9 653.9C163.48 652.02 165.44 652.52 167 652C168.56 651.48 170.43 651 173.25 650.75C176.07 650.5 181.82 649.88 183.9 650.5C185.98 651.12 184.82 651.96 185.75 654.5C186.68 657.04 188.14 662.1 189.5 665.75C190.86 669.4 193.38 674.27 193.9 676.4C194.42 678.52 194.38 678.15 192.6 678.5C190.82 678.85 185.85 679.38 183.25 678.5C180.65 677.62 179.29 675.79 177 673.25C174.71 670.71 171.68 666.48 169.5 663.25C167.32 660.02 164.32 655.77 163.9 653.9Z"/>
<path class="b" d="M163.9 653.9L157 648M173.25 648V650.7"/>
<path class="b" d="M441.5 420.9H466.5Q470.6 421.2 472.8 424.6L476 430.8Q476.9 434.6 473 434.6L447 433.5Q444.2 433.2 442.7 430.4L439.5 424Q438.6 421 441.5 420.9Z"/>
<path class="b" d="M432.75 534C435.04 532.17 441.71 531.71 446.5 531.5C451.29 531.29 458.58 531.71 461.5 532.75C464.42 533.79 464 535.96 464 537.75C464 539.54 464.42 542.21 461.5 543.5C458.58 544.79 451.29 545.67 446.5 545.5C441.71 545.33 435.04 544.42 432.75 542.5C430.46 540.58 430.46 535.83 432.75 534Z"/>
<path class="s" d="M412 526C414.5 523.83 423.17 524.5 426 525C428.83 525.5 428.5 525.33 429 529C429.5 532.67 429.5 543.33 429 547C428.5 550.67 428.83 550.5 426 551C423.17 551.5 414.5 552.17 412 550C409.5 547.83 411 542 411 538C411 534 409.5 528.17 412 526Z"/>
<g id="rh"><path class="b" d="M818.5 397.1C819.12 397.18 818.17 397.87 822.25 397.6C826.33 397.33 835.38 396.05 843 395.5C850.62 394.95 858.12 394.57 868 394.3C877.88 394.03 896.54 393.97 902.25 393.9"/>
<path class="b" d="M821 408.4C824.67 408.05 835.83 406.82 843 406.3C850.17 405.78 854.12 405.53 864 405.25C873.88 404.97 895.88 404.71 902.25 404.6"/>
<path class="b" d="M893.3 400.3L897.5 395.8Q901.75 392.5 902.25 393.2"/>
<path class="b" d="M893.3 400.3H902.25"/>
<path class="b" d="M821.6 398.4C821.08 398.18 820.27 396.17 818.5 397.1C816.73 398.03 813.92 400.77 811 404C808.08 407.23 804.33 411.5 801 416.5C797.67 421.5 793.92 428.17 791 434C788.08 439.83 785.07 447.54 783.5 451.5C781.93 455.46 783.27 455.46 781.6 457.75C779.93 460.04 775.68 462.96 773.5 465.25C771.32 467.54 770 467.83 768.5 471.5C767 475.17 765.78 482.02 764.5 487.25C763.22 492.48 761.45 497.17 760.8 502.9C760.15 508.62 760.47 514.83 760.6 521.6C760.73 528.37 761.08 536.73 761.6 543.5C762.12 550.27 762.8 557.5 763.7 562.25C764.6 567 765.6 569.34 767 572C768.4 574.66 770.47 576.37 772.1 578.2C773.73 580.03 774.98 581.97 776.8 583C778.62 584.03 780.65 584.55 783 584.4C785.35 584.25 787.9 583.58 790.9 582.1C793.9 580.62 797.36 577.85 801 575.5C804.64 573.15 809.75 569.38 812.75 568C815.75 566.62 811.62 567.37 819 567.2C826.38 567.03 849.67 566.62 857 567C864.33 567.38 861.08 568.25 863 569.5C864.92 570.75 867.58 573.67 868.5 574.5"/>
<path class="b" d="M811 406.5C810.58 409 810.17 416.08 808.5 421.5C806.83 426.92 803.92 434 801 439C798.08 444 794.23 448.38 791 451.5C787.77 454.62 783.17 456.71 781.6 457.75"/>
<path class="b" d="M821.6 399C821.29 401.71 820.89 409.42 819.75 415.25C818.61 421.08 816.21 428.38 814.75 434C813.29 439.62 812.46 445.04 811 449C809.54 452.96 807.46 455.04 806 457.75C804.54 460.46 803.05 462.94 802.25 465.25C801.45 467.56 800.73 467.93 801.2 471.6C801.68 475.27 803.4 481.78 805.1 487.25C806.8 492.72 809.32 499.44 811.4 504.4C813.48 509.36 815.27 513.61 817.6 517C819.93 520.39 823.05 522.93 825.4 524.75C827.75 526.57 828.43 527.36 831.7 527.9C834.97 528.44 833.24 527.98 845 528C856.76 528.02 892.71 528 902.25 528"/>
<path class="b" d="M902.25 414.6C895.88 414.71 875.04 414.73 864 415.25C852.96 415.77 842.33 416.71 836 417.75C829.67 418.79 828.5 419.83 826 421.5C823.5 423.17 822.35 424.62 821 427.75C819.65 430.88 818.52 436.29 817.9 440.25C817.27 444.21 817.36 449.62 817.25 451.5"/>
<path class="b" d="M811 450.9C813.08 451.52 818.92 453.46 823.5 454.6C828.08 455.74 831.75 457.12 838.5 457.75C845.25 458.38 853.38 458.27 864 458.4C874.62 458.52 895.88 458.48 902.25 458.5"/>
<path class="b" d="M771.8 466.5C772.08 465.46 773.42 462.54 773.5 460.25C773.58 457.96 773.29 454.83 772.25 452.75C771.21 450.67 770.38 448.38 767.25 447.75C764.12 447.12 757.25 448.27 753.5 449C749.75 449.73 746.73 450.64 744.75 452.1C742.77 453.56 741.81 455.56 741.6 457.75C741.39 459.94 742.35 463.38 743.5 465.25C744.65 467.12 744.54 467.96 748.5 469C752.46 470.04 761 471.29 767.25 471.5C773.5 471.71 782.88 470.46 786 470.25"/>
<path class="b" d="M783.25 471.6C784.81 470.95 789.23 468.6 792.6 467.7C795.98 466.8 791.6 466.63 803.5 466.2C815.4 465.77 847.54 465.33 864 465.1C880.46 464.87 895.88 464.85 902.25 464.8"/>
<path class="b" d="M783.25 471.6C784.81 472.12 787.39 474.1 792.6 474.75C797.81 475.4 806.93 475.12 814.5 475.5C822.07 475.88 832.27 476.08 838 477C843.73 477.92 846.05 479.55 848.9 481C851.75 482.45 854.58 484.13 855.1 485.7C855.62 487.27 853.56 489.42 852 490.4C850.44 491.38 852 491.29 845.75 491.6C839.5 491.91 825.69 492.32 814.5 492.25C803.31 492.18 784.33 493.34 778.6 491.2C772.87 489.06 779.33 482.67 780.1 479.4C780.88 476.13 782.73 472.9 783.25 471.6"/>
<path class="b" d="M855.1 485.7H902.25"/>
<path class="b" d="M778.6 491.2L762.2 516.2"/>
<path class="b" d="M760.4 503V612"/>
<path class="b" d="M762.2 529.4C763.62 528.1 767.24 523.67 770.75 521.6C774.26 519.53 778.56 517.9 783.25 517C787.94 516.1 794.21 515.17 798.9 516.2C803.59 517.23 807.5 520.47 811.4 523.2C815.3 525.93 819.05 530 822.3 532.6C825.55 535.2 829.47 537.77 830.9 538.8"/>
<path class="b" d="M782.5 522.4C783.02 522.1 784.68 520.6 785.6 520.6C786.52 520.6 788 517.54 788 522.4C788 527.26 785.73 543.63 785.6 549.75C785.47 555.87 786.42 556.89 787.2 559.1C787.98 561.31 789.78 562.35 790.3 563"/>
<path class="b" d="M782.5 522.4C781.97 526.96 779.83 544.15 779.3 549.75C778.77 555.35 778.52 553.79 779.3 556C780.08 558.21 783.22 561.83 784 563"/>
<path class="b" d="M784 563C792.47 562.88 825.03 563.28 834.8 562.25C844.57 561.22 840.07 557.84 842.6 556.8C845.13 555.76 840.06 556.13 850 556C859.94 555.87 893.54 556 902.25 556"/>
<path class="b" d="M764.5 560.7L778.6 554.4"/>
<path class="b" d="M800.4 576L814.5 567.9"/>
<path class="b" d="M801 574.9H902.25M791.7 583.5H902.25M796.5 596.6H902.25"/>
<path class="b" d="M811.6 574.9V578Q811.8 581 814.6 581H820Q822.8 581 823 578V574.9"/>
<path class="b" d="M760.3 559V613Q760.5 619.2 766.5 619.2H790.5Q796.4 619.2 796.5 613V583.7"/></g>
<use href="#rh" transform="translate(1803.50 0) scale(-1 1)"/>
<circle cx="901.6" cy="473.2" r="6.6" fill="#333" stroke="#777" stroke-width="1"/>
<path d="M901.6 468.9A4.3 4.3 0 0 1 905.9 473.2H901.6ZM901.6 477.5A4.3 4.3 0 0 1 897.3 473.2H901.6Z" fill="#fff"/>
<circle cx="901.6" cy="473.2" r="4.3" fill="none" stroke="#ddd" stroke-width="0.6"/>
<path class="d" d="M0 272.5H249"/>
<path class="d" d="M112 47H240"/>
<path class="d" d="M238.5 47V144.5M238.5 175.5V272"/>
<path class="ah" d="M238.5 47L239.9 52L237.1 52Z"/>
<path class="ah" d="M238.5 272.3L237.1 267.3L239.9 267.3Z"/>
<text x="225.95 231.58 237.75 243.38" y="159.8" font-size="13" transform="rotate(-90 238.6 159.8)">1515</text>
<path class="d" d="M195 272.5V300M214.5 272.5V327.5"/>
<path class="d" d="M0 299H56.5M90.5 299H195"/>
<path class="ah" d="M195 299L190 300.4L190 297.6Z"/>
<text x="60.85 66.48 73.28 80.08" y="299" font-size="13">1634</text>
<path class="d" d="M0 325.8H56.5M90.5 325.8H214.5"/>
<path class="ah" d="M214.5 325.8L209.5 327.2L209.5 324.4Z"/>
<text x="60.65 66.28 73.08 79.88" y="325.8" font-size="13">1900</text>
<path class="d" d="M400 272.3H1024"/>
<path class="d" d="M432.3 272.3V326M554 272.3V299.5M941.8 272.3V299.5"/>
<path class="d" d="M432.3 298.6H478.4M507 298.6H554M554 298.6H741M776.5 298.6H941.8M941.8 298.6H998"/>
<path class="ah" d="M432.3 298.6L437.3 297.2L437.3 300Z"/>
<path class="ah" d="M554 298.6L549 300L549 297.2Z"/>
<path class="ah" d="M554 298.6L559 297.2L559 300Z"/>
<path class="ah" d="M941.8 298.6L936.8 300L936.8 297.2Z"/>
<path class="ah" d="M941.8 298.6L946.8 297.2L946.8 300Z"/>
<text x="481.78 488.58 495.38" y="298.6" font-size="13">945</text>
<text x="745.48 752.28 759.08 765.88" y="298.6" font-size="13">2995</text>
<text x="1002.15 1007.15 1012.78 1019.58" y="298.6" font-size="13">1120</text>
<path class="d" d="M432.3 325.3H741M776.5 325.3H1024"/>
<path class="ah" d="M432.3 325.3L437.3 323.9L437.3 326.7Z"/>
<text x="745.48 752.28 759.08 765.88" y="325.6" font-size="13">5060</text>
<path class="k" d="M784.8 89.3L782.3 100M775 132L759.8 199.3"/>
<path class="ah" d="M784.8 89.3L785.34 94.14L782.22 93.43Z"/>
<path class="ah" d="M759.8 199.3L759.26 194.46L762.38 195.17Z"/>
<text x="765.15 770.78 777.58 784.38" y="116.5" font-size="13" transform="rotate(-77.2 778.7 116.5)">1033</text>
<path class="k" d="M890.5 86.8L888 98.5M881.8 127.5L867.5 194.3"/>
<path class="ah" d="M890.5 86.8L891.1 91.63L887.97 90.96Z"/>
<path class="ah" d="M867.5 194.3L866.9 189.47L870.03 190.14Z"/>
<text x="874.88 881.68 888.48" y="113.5" font-size="13" transform="rotate(-77.9 885.3 113.5)">996</text>
<path class="k" d="M259.5 429V521M259.5 555V645.5"/>
<path class="ah" d="M259.5 429L261.1 433.6L257.9 433.6Z"/>
<path class="ah" d="M259.5 645.5L257.9 640.9L261.1 640.9Z"/>
<text x="245.95 251.58 258.38 265.18" y="538" font-size="13" transform="rotate(-90 259.5 538)">1536</text>
<path class="k" d="M370.8 432.8V521M370.8 555V643"/>
<path class="ah" d="M370.8 432.8L372.4 437.4L369.2 437.4Z"/>
<path class="ah" d="M370.8 643L369.2 638.4L372.4 638.4Z"/>
<text x="357.25 362.88 369.68 376.48" y="538" font-size="13" transform="rotate(-90 370.8 538)">1497</text>
<path class="d" d="M741.5 619.3H1024"/>
<path class="d" d="M741.5 619.3V673.5M779 619.3V647"/>
<path class="d" d="M779 646H884M920 646H1024"/>
<path class="ah" d="M779 646L784 644.6L784 647.4Z"/>
<text x="888.75 894.38 901.18 907.98" y="646.1" font-size="13">1668</text>
<path class="d" d="M741.5 672.8H884M920 672.8H1024"/>
<path class="ah" d="M741.5 672.8L746.5 671.4L746.5 674.2Z"/>
<text x="889.38 895.55 901.18 907.98" y="672.9" font-size="13">2156</text>
</svg>
</body></html>
